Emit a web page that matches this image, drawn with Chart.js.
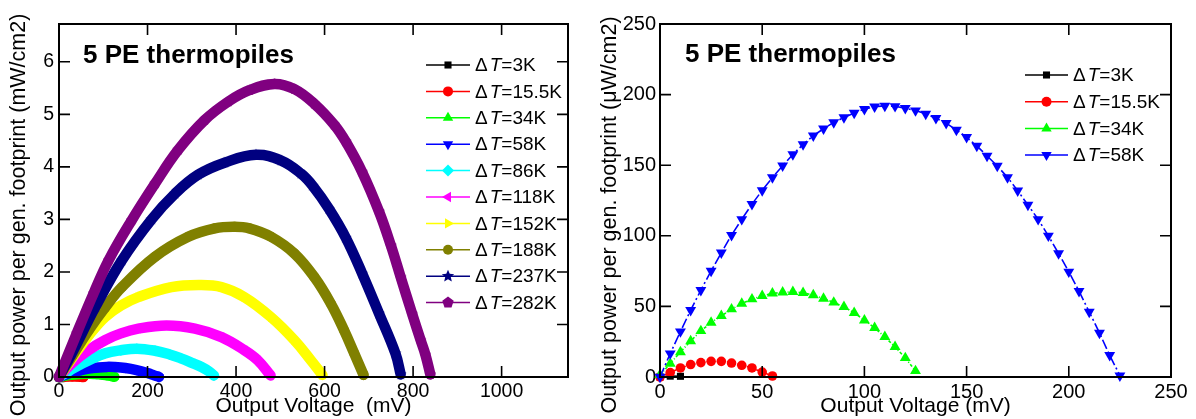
<!DOCTYPE html>
<html><head><meta charset="utf-8">
<script src="https://cdn.jsdelivr.net/npm/chart.js@4.4.1/dist/chart.umd.min.js"></script>
<style>
html,body{margin:0;padding:0;background:#fff;width:1196px;height:419px;overflow:hidden}
#wrapL{position:absolute;left:0;top:0;width:598px;height:419px}
#wrapR{position:absolute;left:598px;top:0;width:598px;height:419px}
</style></head><body>
<div id="wrapL"><canvas id="cL" width="598" height="419"></canvas></div>
<div id="wrapR"><canvas id="cR" width="598" height="419"></canvas></div>
<script>
// ---------- categories / tick labels ----------
const seriesLabels = ['ΔT=3K','ΔT=15.5K','ΔT=34K','ΔT=58K','ΔT=86K','ΔT=118K','ΔT=152K','ΔT=188K','ΔT=237K','ΔT=282K'];
const leftXTicks = [0, 200, 400, 600, 800, 1000];
const leftYTicks = [0, 1, 2, 3, 4, 5, 6];
const rightXTicks = [0, 50, 100, 150, 200, 250];
const rightYTicks = [0, 50, 100, 150, 200, 250];

// ---------- left panel: voltage (mV) / power (mW/cm2) ----------
const lV3 = [0, 5, 10];
const lP3 = [0, 0.0006, 0.0005];
const lV15 = [0, 10, 20, 30, 40, 50, 55];
const lP15 = [0, 0.0064, 0.0102, 0.0111, 0.0083, 0.0035, 0.0007];
const lV34 = [0, 10, 20, 30, 40, 50, 60, 70, 80, 90, 100, 110, 120, 125];
const lP34 = [0, 0.018, 0.033, 0.043, 0.052, 0.058, 0.060, 0.060, 0.056, 0.050, 0.040, 0.028, 0.014, 0.004];
const lV58 = [0, 10, 25, 50, 75, 108, 125, 150, 175, 200, 215, 226];
const lP58 = [0, 0.032, 0.075, 0.132, 0.171, 0.192, 0.189, 0.170, 0.132, 0.075, 0.031, 0.002];
const lV86 = [0, 20, 37, 70, 104, 140, 176, 217, 250, 277, 300, 322, 340, 350];
const lP86 = [0, 0.10, 0.19, 0.33, 0.45, 0.51, 0.54, 0.50, 0.43, 0.35, 0.27, 0.19, 0.10, 0.03];
const lV118 = [0, 29, 65, 104, 140, 179, 243, 307, 367, 419, 449, 478];
const lP118 = [0, 0.26, 0.50, 0.70, 0.83, 0.92, 0.98, 0.92, 0.76, 0.51, 0.32, 0.03];
const lV152 = [0, 37, 70, 104, 140, 179, 254, 318, 367, 419, 479, 532, 569, 595];
const lP152 = [0, 0.45, 0.82, 1.14, 1.36, 1.52, 1.71, 1.75, 1.71, 1.52, 1.14, 0.70, 0.32, 0.04];
const lV188 = [0, 30, 67, 104, 142, 217, 292, 352, 397, 430, 479, 532, 577, 614, 644, 667, 688];
const lP188 = [0, 0.40, 0.89, 1.32, 1.71, 2.29, 2.67, 2.83, 2.86, 2.83, 2.67, 2.35, 1.90, 1.40, 0.89, 0.45, 0.04];
const lV237 = [0, 29, 82, 142, 209, 262, 314, 374, 445, 502, 547, 573, 610, 648, 685, 723, 760, 772];
const lP237 = [0, 0.45, 1.33, 2.22, 3.00, 3.49, 3.85, 4.08, 4.23, 4.12, 3.87, 3.64, 3.20, 2.65, 1.97, 1.21, 0.45, 0.05];
const lV282 = [0, 40, 78, 112, 164, 217, 269, 329, 382, 430, 487, 532, 577, 622, 648, 685, 723, 750, 772, 798, 817, 828, 839];
const lP282 = [0, 0.83, 1.59, 2.22, 2.98, 3.68, 4.32, 4.89, 5.24, 5.46, 5.58, 5.48, 5.20, 4.80, 4.48, 3.90, 3.15, 2.50, 1.90, 1.20, 0.70, 0.42, 0.05];

// ---------- right panel: voltage (mV) / power (uW/cm2) ----------
const rV3 = [0, 5, 10];
const rP3 = [0, 0.6, 0.5];
const rV15 = [0, 5, 10, 15, 20, 25, 30, 35, 40, 45, 50, 55];
const rP15 = [0, 3.1, 6.4, 8.8, 10.2, 11.1, 11.1, 9.9, 8.3, 6.4, 3.5, 0.7];
const rV34 = [0, 5, 10, 15, 20, 25, 30, 35, 40, 45, 50, 55, 60, 65, 70, 75, 80, 85, 90, 95, 100, 105, 110, 115, 120, 125];
const rP34 = [1.5, 9.5, 17.7, 25.5, 32.6, 38.6, 43.3, 48.0, 52.0, 55.1, 57.5, 59.2, 59.9, 60.3, 59.6, 58.0, 55.6, 52.8, 49.7, 45.4, 40.2, 34.8, 28.4, 21.3, 13.5, 4.3];
const rV58 = [0, 5, 10, 15, 20, 25, 30, 35, 40, 45, 50, 55, 60, 65, 70, 75, 80, 85, 90, 95, 100, 105, 110, 115, 120, 125, 130, 135, 140, 145, 150, 155, 160, 165, 170, 175, 180, 185, 190, 195, 200, 205, 210, 215, 220, 225];
const rP58 = [0, 16.6, 32.2, 47.3, 61.5, 75.1, 88.0, 100.5, 111.7, 122.4, 132.2, 141.3, 149.6, 157.6, 164.7, 170.9, 175.8, 180.3, 183.8, 187.0, 189.7, 191.5, 192.0, 191.7, 190.4, 188.7, 186.3, 183.3, 179.8, 175.0, 169.8, 163.7, 156.6, 149.5, 141.4, 132.0, 121.8, 111.7, 100.0, 87.5, 74.5, 60.8, 46.1, 31.2, 15.4, 1.0];

// ---------- styles ----------
const FAM = "'Liberation Sans', Arial, Helvetica, sans-serif";
Chart.defaults.color = '#000';
Chart.defaults.font.family = FAM;

const colors = ['#000000','#ff0000','#00ff00','#0000ff','#00ffff','#ff00ff','#ffff00','#808000','#000080','#800080'];
const markerKinds = [
  {kind:'rect'}, {kind:'circle'}, {kind:'triangle', rot:0}, {kind:'triangle', rot:180},
  {kind:'rectRot'}, {kind:'triangle', rot:-90}, {kind:'triangle', rot:90}, {kind:'circle'},
  {kind:'star'}, {kind:'pentagon'}
];
const bandRadius = [4.5, 5, 5.5, 5.5, 5.5, 5.5, 5.5, 5, 6, 5.5];
const legendRadius = [5, 5, 6, 6, 6, 6, 6, 5, 6.5, 6];
const rightRadius = [5, 4.8, 6.3, 6.3];
const rightDash = [[], [3, 2], [3, 2, 1, 2], [10, 3, 2, 3]];

function markerPath(ctx, mk, x, y, r) {
  const rot = (mk.rot || 0) * Math.PI / 180;
  ctx.beginPath();
  if (mk.kind === 'circle') {
    ctx.arc(x, y, r, 0, Math.PI * 2);
  } else if (mk.kind === 'rect') {
    const s = r * Math.SQRT1_2; ctx.rect(x - s, y - s, 2 * s, 2 * s);
  } else if (mk.kind === 'rectRot') {
    ctx.moveTo(x, y - r); ctx.lineTo(x + r, y); ctx.lineTo(x, y + r); ctx.lineTo(x - r, y); ctx.closePath();
  } else if (mk.kind === 'triangle' || mk.kind === 'pentagon') {
    const n = mk.kind === 'triangle' ? 3 : 5;
    for (let k = 0; k < n; k++) {
      const a = rot + k * 2 * Math.PI / n;
      const px = x + Math.sin(a) * r, py = y - Math.cos(a) * r;
      if (k) ctx.lineTo(px, py); else ctx.moveTo(px, py);
    }
    ctx.closePath();
  } else if (mk.kind === 'star') {
    for (let k = 0; k < 10; k++) {
      const a = k * Math.PI / 5, rr = (k % 2) ? r * 0.45 : r;
      const px = x + Math.sin(a) * rr, py = y - Math.cos(a) * rr;
      if (k) ctx.lineTo(px, py); else ctx.moveTo(px, py);
    }
    ctx.closePath();
  }
}
function drawMarker(ctx, mk, x, y, r, color) {
  ctx.save(); ctx.fillStyle = color; markerPath(ctx, mk, x, y, r); ctx.fill(); ctx.restore();
}
function sprite(mk, r, color) {
  const s = Math.ceil(2 * r + 2);
  const c = document.createElement('canvas'); c.width = s; c.height = s;
  drawMarker(c.getContext('2d'), mk, s / 2, s / 2, r, color);
  return c;
}
function chartPointStyle(mk, r, color) {
  if (mk.kind === 'star' || mk.kind === 'pentagon') return sprite(mk, r, color);
  return mk.kind;
}
function pts(xs, ys) { return xs.map((v, i) => ({x: v, y: ys[i]})); }

// ---------- plugins ----------
const framePlugin = {
  id: 'frame',
  afterDatasetsDraw(chart) {
    const {ctx, chartArea: a, scales: {x, y}} = chart;
    const L = 11;
    ctx.save();
    ctx.strokeStyle = '#000'; ctx.lineWidth = 1.6;
    ctx.beginPath();
    x.ticks.forEach(t => {
      const p = x.getPixelForValue(t.value);
      if (p <= a.left + 1 || p >= a.right - 1) return;
      ctx.moveTo(p, a.bottom); ctx.lineTo(p, a.bottom - L);
      ctx.moveTo(p, a.top); ctx.lineTo(p, a.top + L);
    });
    y.ticks.forEach(t => {
      const p = y.getPixelForValue(t.value);
      if (p >= a.bottom - 1 || p <= a.top + 1) return;
      ctx.moveTo(a.left, p); ctx.lineTo(a.left + L, p);
      ctx.moveTo(a.right, p); ctx.lineTo(a.right - L, p);
    });
    ctx.stroke();
    ctx.lineWidth = 2;
    ctx.strokeRect(a.left, a.top, a.right - a.left, a.bottom - a.top);
    ctx.restore();
  }
};
const textPlugin = {
  id: 'texts',
  afterDraw(chart, args, o) {
    const ctx = chart.ctx;
    ctx.save();
    ctx.fillStyle = '#000';
    ctx.font = 'bold 26px ' + FAM; ctx.textAlign = 'left'; ctx.textBaseline = 'alphabetic';
    ctx.fillText(o.title, o.titleX, o.titleY);
    ctx.save();
    ctx.translate(o.yTitleX, o.yTitleY); ctx.rotate(-Math.PI / 2);
    ctx.font = '21.5px ' + FAM; ctx.textAlign = 'center'; ctx.textBaseline = 'middle';
    ctx.fillText(o.yTitle, 0, 0);
    ctx.restore();
    // legend
    chart.data.datasets.forEach((ds, i) => {
      const yy = o.legY0 + i * o.legDy;
      ctx.strokeStyle = ds.legendColor; ctx.lineWidth = 1.5;
      ctx.beginPath(); ctx.moveTo(o.legX0, yy); ctx.lineTo(o.legX1, yy); ctx.stroke();
      drawMarker(ctx, ds.legendMarker, (o.legX0 + o.legX1) / 2, yy, ds.legendR, ds.legendColor);
      const lab = ds.label;
      const ti = lab.indexOf('T');
      const pre = lab.slice(0, ti), mid = 'T', post = lab.slice(ti + 1);
      ctx.fillStyle = '#000'; ctx.textBaseline = 'middle'; ctx.textAlign = 'left';
      let tx = o.legTx;
      ctx.font = '19px ' + FAM; ctx.fillText(pre, tx, yy + 1); tx += ctx.measureText(pre).width + 2;
      ctx.font = 'italic 19px ' + FAM; ctx.fillText(mid, tx, yy + 1); tx += ctx.measureText(mid).width;
      ctx.font = '19px ' + FAM; ctx.fillText(post, tx, yy + 1);
    });
    ctx.restore();
  }
};

function axisX(min, max, tickArr, title, size) {
  return {
    type: 'linear', min: min, max: max,
    grid: {display: false, drawTicks: false}, border: {display: false},
    ticks: {font: {size: size, family: FAM}, color: '#000', padding: 3, maxRotation: 0, autoSkip: false, callback: v => String(v)},
    afterBuildTicks: s => { s.ticks = tickArr.map(v => ({value: v})); },
    afterFit: s => { s.height = 42; },
    title: {display: true, text: title, font: {size: 21, family: FAM}, color: '#000', padding: {top: 0, bottom: 0}}
  };
}
function axisY(min, max, tickArr, width, pad, size) {
  return {
    type: 'linear', min: min, max: max,
    grid: {display: false, drawTicks: false}, border: {display: false},
    ticks: {font: {size: size, family: FAM}, color: '#000', padding: pad, autoSkip: false, callback: v => String(v)},
    afterBuildTicks: s => { s.ticks = tickArr.map(v => ({value: v})); },
    afterFit: s => { s.width = width; }
  };
}

// ---------- left chart ----------
const leftXs = [lV3, lV15, lV34, lV58, lV86, lV118, lV152, lV188, lV237, lV282];
const leftYs = [lP3, lP15, lP34, lP58, lP86, lP118, lP152, lP188, lP237, lP282];
const leftSets = leftXs.map((xs, i) => ({
  label: seriesLabels[i],
  data: pts(xs, leftYs[i]),
  borderColor: colors[i], backgroundColor: colors[i],
  borderWidth: 10.5, borderCapStyle: 'round', borderJoinStyle: 'round',
  tension: 0.4,
  pointStyle: chartPointStyle(markerKinds[i], bandRadius[i], colors[i]),
  pointRotation: markerKinds[i].rot || 0,
  pointRadius: bandRadius[i], pointBorderWidth: 0, pointBackgroundColor: colors[i],
  pointHoverRadius: bandRadius[i],
  clip: 10, order: 10 - i,
  legendColor: colors[i], legendMarker: markerKinds[i], legendR: legendRadius[i]
}));
new Chart(document.getElementById('cL'), {
  type: 'line',
  data: {datasets: leftSets},
  options: {
    responsive: false, animation: false, events: [],
    layout: {padding: {left: 0, top: 24, right: 30, bottom: 0}},
    scales: {
      x: axisX(0, 1150, leftXTicks, 'Output Voltage  (mV)', 19.5),
      y: axisY(0, 6.72, leftYTicks, 59, 5, 19.5)
    },
    plugins: {
      legend: {display: false}, tooltip: {enabled: false},
      texts: {title: '5 PE thermopiles', titleX: 83, titleY: 63,
              yTitle: 'Output power per gen. footprint (mW/cm2)', yTitleX: 19, yTitleY: 215,
              legX0: 426, legX1: 470, legTx: 475, legY0: 65, legDy: 26.4}
    }
  },
  plugins: [framePlugin, textPlugin]
});

// ---------- right chart ----------
const rightXs = [rV3, rV15, rV34, rV58];
const rightYs = [rP3, rP15, rP34, rP58];
const rightSets = rightXs.map((xs, i) => ({
  label: seriesLabels[i],
  data: pts(xs, rightYs[i]),
  borderColor: colors[i], backgroundColor: colors[i],
  borderWidth: 1.6, borderDash: rightDash[i], tension: 0,
  pointStyle: chartPointStyle(markerKinds[i], rightRadius[i], colors[i]),
  pointRotation: markerKinds[i].rot || 0,
  pointRadius: rightRadius[i], pointBorderWidth: 0, pointBackgroundColor: colors[i],
  pointHoverRadius: rightRadius[i],
  clip: 8, order: 4 - i,
  legendColor: colors[i], legendMarker: markerKinds[i], legendR: legendRadius[i]
}));
new Chart(document.getElementById('cR'), {
  type: 'line',
  data: {datasets: rightSets},
  options: {
    responsive: false, animation: false, events: [],
    layout: {padding: {left: 0, top: 24, right: 25, bottom: 0}},
    scales: {
      x: axisX(0, 250, rightXTicks, 'Output Voltage (mV)', 20),
      y: axisY(0, 250, rightYTicks, 62, 4, 20)
    },
    plugins: {
      legend: {display: false}, tooltip: {enabled: false},
      texts: {title: '5 PE thermopiles', titleX: 87, titleY: 62,
              yTitle: 'Output power per gen. footprint (μW/cm2)', yTitleX: 12.5, yTitleY: 215,
              legX0: 427, legX1: 470, legTx: 475, legY0: 75, legDy: 26.7}
    }
  },
  plugins: [framePlugin, textPlugin]
});
</script>
</body></html>
